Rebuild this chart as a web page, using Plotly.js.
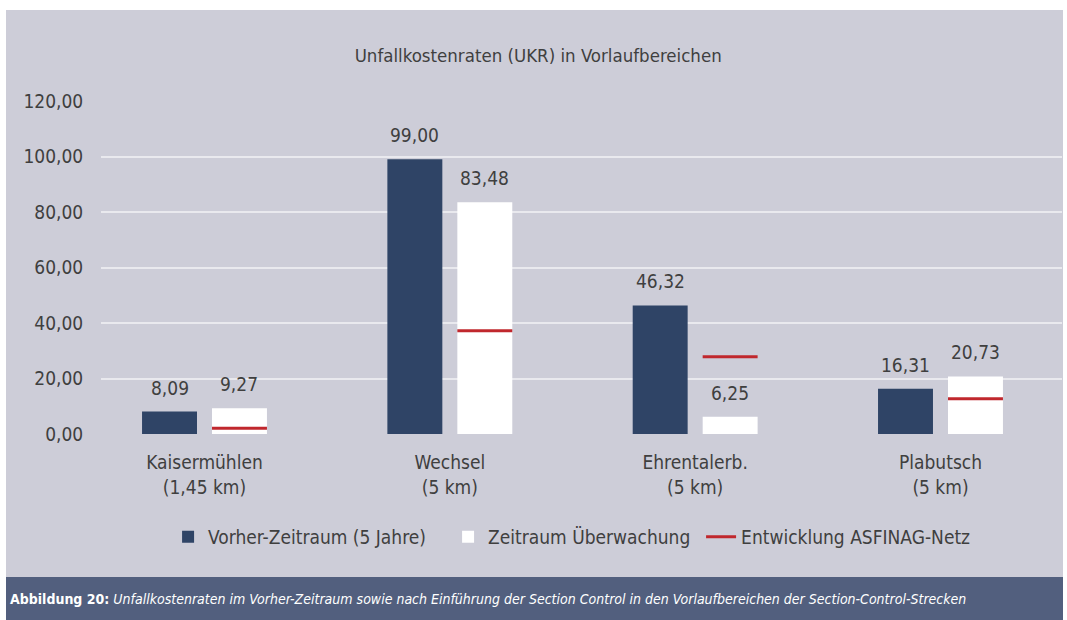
<!DOCTYPE html>
<html>
<head>
<meta charset="utf-8">
<script src="https://cdn.plot.ly/plotly-3.0.1.min.js"></script>
<style>
  html, body { margin: 0; padding: 0; background: #ffffff; width: 1067px; height: 620px; overflow: hidden; }
  #chart { position: absolute; left: 6px; top: 10px; width: 1057px; height: 567px; }
  #caption { position: absolute; left: 6px; top: 577px; width: 1057px; height: 43px; background: #525f7e;
    color: #ffffff; font-family: "Liberation Sans Narrow", "DejaVu Sans Condensed", sans-serif; font-size: 14px;
    line-height: 45px; padding-left: 4px; box-sizing: border-box; white-space: nowrap; }
  #caption b { font-weight: bold; }
  #caption i { font-style: italic; }
</style>
</head>
<body>
<div id="chart"></div>
<div id="caption"><b>Abbildung 20:</b> <i>Unfallkostenraten im Vorher-Zeitraum sowie nach Einführung der Section Control in den Vorlaufbereichen der Section-Control-Strecken</i></div>
<script>
const categories = ["Kaisermühlen<br>(1,45 km)", "Wechsel<br>(5 km)", "Ehrentalerb.<br>(5 km)", "Plabutsch<br>(5 km)"];
const vorher = [8.09, 99.00, 46.32, 16.31];
const ueberwachung = [9.27, 83.48, 6.25, 20.73];
const asfinag = [2.1, 37.2, 27.8, 12.7];
const yTicks = [0, 20, 40, 60, 80, 100, 120];
const yTickLabels = ["0,00", "20,00", "40,00", "60,00", "80,00", "100,00", "120,00"];

const FONT = '"Liberation Sans Narrow", "DejaVu Sans Condensed", sans-serif';
const TXT = '#3f3f3f';
const FS = 19;
const idx = categories.map((c, i) => i);
const fmt = v => v.toFixed(2).replace('.', ',');

// bar geometry (in category units)
const BW = 0.224, GAP = 0.0306;

// red segments spanning the white bar of each category
const segX = [], segY = [];
idx.forEach(i => {
  segX.push(i + GAP, i + GAP + BW, null);
  segY.push(asfinag[i], asfinag[i], null);
});

const traces = [
  {
    type: 'bar', name: 'Vorher-Zeitraum (5 Jahre)', x: idx, y: vorher,
    width: BW, offset: -(GAP + BW), legendwidth: 235,
    marker: { color: '#2f4466', line: { width: 0 } }, hoverinfo: 'skip'
  },
  {
    type: 'bar', name: 'Zeitraum Überwachung', x: idx, y: ueberwachung,
    width: BW, offset: GAP, legendwidth: 208,
    marker: { color: '#ffffff', line: { width: 0 } }, hoverinfo: 'skip'
  },
  {
    type: 'scatter', mode: 'lines', name: 'Entwicklung ASFINAG-Netz',
    x: segX, y: segY, connectgaps: false,
    line: { color: '#c0272d', width: 3 }, hoverinfo: 'skip'
  }
];

// value labels above the bars
const annotations = [];
idx.forEach(i => {
  annotations.push({ x: i - GAP - BW / 2, y: vorher[i], text: fmt(vorher[i]) });
  annotations.push({ x: i + GAP + BW / 2, y: ueberwachung[i], text: fmt(ueberwachung[i]) });
});
annotations.forEach(a => Object.assign(a, {
  xref: 'x', yref: 'y', showarrow: false, xanchor: 'center', yanchor: 'bottom', yshift: 11,
  font: { family: FONT, size: FS, color: TXT }
}));

const layout = {
  width: 1057, height: 567,
  paper_bgcolor: '#cdcdd8', plot_bgcolor: 'rgba(0,0,0,0)',
  font: { family: FONT, size: FS, color: TXT },
  margin: { l: 95, r: 1, t: 91, b: 143 },
  barmode: 'overlay',
  showlegend: true,
  annotations: annotations,
  title: { text: 'Unfallkostenraten (UKR) in Vorlaufbereichen', font: { family: FONT, size: 18.5, color: TXT },
           x: 0.5035, xref: 'container', y: 0.92, yref: 'container', yanchor: 'middle' },
  xaxis: {
    range: [-0.4219, 3.4953], tickmode: 'array', tickvals: idx, ticktext: categories,
    showgrid: false, zeroline: false, showline: false,
    ticks: 'outside', ticklen: 11, tickcolor: 'rgba(0,0,0,0)',
    tickfont: { family: FONT, size: FS, color: TXT }, fixedrange: true
  },
  yaxis: {
    range: [0, 120], tickmode: 'array', tickvals: yTicks, ticktext: yTickLabels,
    showgrid: true, gridcolor: '#e9e9ee', gridwidth: 2, zeroline: false, showline: false,
    ticks: 'outside', ticklen: 13, tickcolor: 'rgba(0,0,0,0)',
    tickfont: { family: FONT, size: FS, color: TXT }, fixedrange: true
  },
  legend: {
    orientation: 'h', x: 0.0698, xanchor: 'left', y: -0.309, yanchor: 'middle',
    font: { family: FONT, size: FS, color: TXT }, bgcolor: 'rgba(0,0,0,0)', traceorder: 'normal'
  }
};

Plotly.newPlot('chart', traces, layout, { displayModeBar: false, staticPlot: true });
</script>
</body>
</html>
